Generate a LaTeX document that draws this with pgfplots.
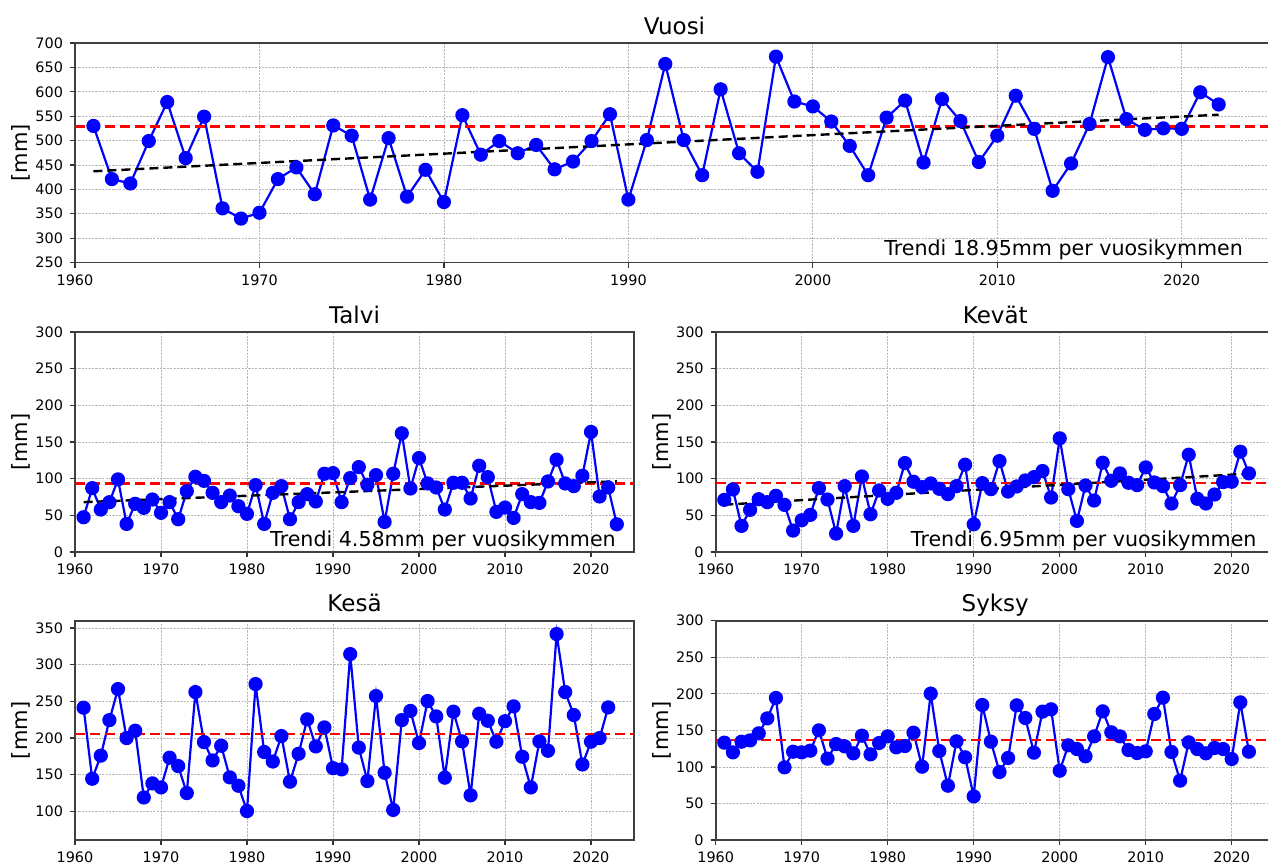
\documentclass[border=0pt]{standalone}
\usepackage{fontspec}
\setmainfont{DejaVu Sans}
\usepackage{pgfplots}
\pgfplotsset{compat=1.18}

\pgfplotsset{
  panel/.style={
    scale only axis,
    xmin=1960, xmax=2025,
    xtick={1960,1970,...,2020},
    grid=major,
    grid style={black!28, dash pattern=on 1.1pt off 0.6pt, line width=0.4pt},
    axis line style={black!75, line width=0.8pt},
    tick align=outside, tick pos=left,
    major tick length=2.5pt,
    tick style={black!80, line width=0.6pt},
    /pgf/number format/assume math mode=true,
    /pgf/number format/1000 sep={},
    tick label style={font=\fontsize{7.2}{8}\selectfont},
    every axis title/.style={at={(0.5,1)}, anchor=base, yshift=4.5pt, font=\fontsize{11.5}{13}\selectfont},
    ylabel={\mbox{[mm]}},
  },
  data/.style={blue, line width=1.1pt, mark=*, mark size=3pt, mark options={solid, fill=blue, draw=blue}},
  meanline/.style={red, line width=1.2pt, dash pattern=on 5pt off 2.5pt},
  trendline/.style={black, line width=1.2pt, dash pattern=on 4.5pt off 2.5pt},
}
\tikzset{trendtext/.style={anchor=base east, font=\fontsize{10.3}{12}\selectfont}}

\begin{document}
\begin{tikzpicture}
\path[use as bounding box, clip] (0,0) rectangle (634pt,432pt);

% ---------------- Vuosi ----------------
\begin{axis}[panel,
  at={(37.5pt,300.75pt)}, anchor=south west,
  width=599.5pt, height=109.75pt,
  ymin=250, ymax=700, ytick={250,300,...,700},
  title={Vuosi},
  every axis y label/.style={at={(axis description cs:-0.0450,0.5)}, rotate=90, anchor=center, font=\fontsize{10.5}{12}\selectfont},
]
\addplot[data] coordinates {
(1961,530)(1962,421)(1963,412)(1964,499)(1965,579)(1966,464)(1967,549)(1968,361)(1969,340)(1970,352)
(1971,421)(1972,445)(1973,390)(1974,531)(1975,510)(1976,379)(1977,505)(1978,385)(1979,440)(1980,374)
(1981,552)(1982,471)(1983,499)(1984,474)(1985,491)(1986,441)(1987,457)(1988,499)(1989,554)(1990,379)
(1991,501)(1992,657)(1993,501)(1994,429)(1995,605)(1996,474)(1997,436)(1998,672)(1999,580)(2000,570)
(2001,539)(2002,489)(2003,429)(2004,547)(2005,582)(2006,455)(2007,585)(2008,540)(2009,456)(2010,510)
(2011,592)(2012,524)(2013,397)(2014,453)(2015,534)(2016,671)(2017,544)(2018,522)(2019,525)(2020,524)
(2021,599)(2022,574)};
\addplot[meanline] coordinates {(1960,529)(2025,529)};
\addplot[trendline] coordinates {(1961,437)(2022,553)};
\node[trendtext] at ([yshift=3.5pt]rel axis cs:0.98,0) {Trendi 18.95mm per vuosikymmen};
\end{axis}

% ---------------- Talvi ----------------
\begin{axis}[panel,
  at={(37.5pt,156pt)}, anchor=south west,
  width=279.5pt, height=110pt,
  ymin=0, ymax=300, ytick={0,50,...,300},
  title={Talvi},
  every axis y label/.style={at={(axis description cs:-0.0965,0.5)}, rotate=90, anchor=center, font=\fontsize{10.5}{12}\selectfont},
]
\addplot[data] coordinates {
(1961,47.4)(1962,87.1)(1963,57.9)(1964,67.9)(1965,99)(1966,38.3)(1967,65.7)(1968,60.2)(1969,71.6)(1970,53.4)
(1971,68)(1972,44.7)(1973,83)(1974,102.6)(1975,97)(1976,80.7)(1977,68)(1978,77)(1979,62.5)(1980,52)
(1981,91.2)(1982,38.3)(1983,80.7)(1984,89.8)(1985,44.7)(1986,68)(1987,78.9)(1988,68.9)(1989,106.7)(1990,107.6)
(1991,68)(1992,100.8)(1993,115.8)(1994,91.7)(1995,104.9)(1996,41)(1997,106.7)(1998,161.9)(1999,86.6)(2000,128.1)
(2001,93.5)(2002,88)(2003,57.9)(2004,94.4)(2005,94.4)(2006,73)(2007,117.6)(2008,102.1)(2009,54.7)(2010,60.6)
(2011,46.5)(2012,78.9)(2013,68)(2014,67)(2015,96.2)(2016,125.9)(2017,93.5)(2018,89.8)(2019,104)(2020,163.7)
(2021,75.7)(2022,88)(2023,37.8)};
\addplot[meanline] coordinates {(1960,93.5)(2025,93.5)};
\addplot[trendline] coordinates {(1961,68)(2023,96.4)};
\node[trendtext] at ([yshift=3pt]rel axis cs:0.98,0) {Trendi 4.58mm per vuosikymmen};
\end{axis}

% ---------------- Kevät ----------------
\begin{axis}[panel,
  at={(357.85pt,156pt)}, anchor=south west,
  width=279.5pt, height=110pt,
  ymin=0, ymax=300, ytick={0,50,...,300},
  title={Kevät},
  every axis y label/.style={at={(axis description cs:-0.0965,0.5)}, rotate=90, anchor=center, font=\fontsize{10.5}{12}\selectfont},
]
\addplot[data] coordinates {
(1961,71.1)(1962,85.3)(1963,35.6)(1964,57.5)(1965,72)(1966,68)(1967,76.6)(1968,64.3)(1969,29.2)(1970,43.3)
(1971,50.6)(1972,87.1)(1973,71.6)(1974,25.1)(1975,89.8)(1976,35.6)(1977,103)(1978,51.5)(1979,83.9)(1980,72.5)
(1981,80.7)(1982,121.3)(1983,95.8)(1984,88.5)(1985,93.5)(1986,86.2)(1987,78.9)(1988,89.8)(1989,119)(1990,37.8)
(1991,93.9)(1992,85.7)(1993,124)(1994,82.5)(1995,89.4)(1996,97.6)(1997,102.1)(1998,110.4)(1999,74.3)(2000,155)
(2001,85.7)(2002,42.4)(2003,90.7)(2004,70.2)(2005,121.8)(2006,97.1)(2007,107.2)(2008,94.4)(2009,91.2)(2010,115.4)
(2011,94.8)(2012,89.8)(2013,66.1)(2014,91.2)(2015,132.7)(2016,72.5)(2017,66.1)(2018,78.4)(2019,95.3)(2020,95.8)
(2021,136.8)(2022,107.2)};
\addplot[meanline] coordinates {(1960,94.4)(2025,94.4)};
\addplot[trendline] coordinates {(1961,64.5)(2022,106.9)};
\node[trendtext] at ([yshift=3pt]rel axis cs:0.98,0) {Trendi 6.95mm per vuosikymmen};
\end{axis}

% ---------------- Kesä ----------------
\begin{axis}[panel,
  at={(37.5pt,12pt)}, anchor=south west,
  width=279.5pt, height=109.65pt,
  ymin=61, ymax=360, ytick={100,150,...,350},
  title={Kesä},
  every axis y label/.style={at={(axis description cs:-0.0965,0.5)}, rotate=90, anchor=center, font=\fontsize{10.5}{12}\selectfont},
]
\addplot[data] coordinates {
(1961,241.4)(1962,144.5)(1963,176)(1964,224.5)(1965,266.8)(1966,200)(1967,210)(1968,119)(1969,138.2)(1970,132.7)
(1971,173.2)(1972,161.8)(1973,125)(1974,262.7)(1975,194.5)(1976,169.5)(1977,189.5)(1978,146.4)(1979,135)(1980,100.5)
(1981,273.6)(1982,181)(1983,168)(1984,202.7)(1985,140.5)(1986,178.6)(1987,225.5)(1988,188.6)(1989,214.5)(1990,159)
(1991,157.3)(1992,314.5)(1993,187)(1994,141.4)(1995,257.3)(1996,152.7)(1997,102)(1998,224.5)(1999,237)(2000,193.2)
(2001,250.5)(2002,229.5)(2003,146)(2004,236)(2005,195.5)(2006,122)(2007,233.2)(2008,223.6)(2009,195)(2010,223)
(2011,243.2)(2012,174.5)(2013,132.7)(2014,195.5)(2015,182.7)(2016,341.8)(2017,262.7)(2018,231.4)(2019,164)(2020,195)
(2021,200)(2022,241.8)};
\addplot[meanline] coordinates {(1960,205.5)(2025,205.5)};
\end{axis}

% ---------------- Syksy ----------------
\begin{axis}[panel,
  at={(357.85pt,12pt)}, anchor=south west,
  width=279.5pt, height=109.65pt,
  ymin=0, ymax=300, ytick={0,50,...,300},
  title={Syksy},
  every axis y label/.style={at={(axis description cs:-0.0965,0.5)}, rotate=90, anchor=center, font=\fontsize{10.5}{12}\selectfont},
]
\addplot[data] coordinates {
(1961,133.2)(1962,119.9)(1963,134.5)(1964,136.3)(1965,145.9)(1966,166.4)(1967,194.3)(1968,99.4)(1969,120.8)(1970,119.9)
(1971,122.2)(1972,150)(1973,111.3)(1974,131.3)(1975,128.1)(1976,118.6)(1977,142.7)(1978,117.2)(1979,132.7)(1980,141.8)
(1981,126.8)(1982,128.6)(1983,146.8)(1984,100.3)(1985,200.2)(1986,121.7)(1987,74.3)(1988,135)(1989,113.1)(1990,59.7)
(1991,184.7)(1992,134.5)(1993,93)(1994,112.2)(1995,184.2)(1996,166.9)(1997,119.5)(1998,175.6)(1999,178.8)(2000,94.8)
(2001,129.5)(2002,124.5)(2003,114.5)(2004,141.8)(2005,176)(2006,147.3)(2007,141.8)(2008,123.1)(2009,119)(2010,121.3)
(2011,172.4)(2012,194.7)(2013,120.4)(2014,81.2)(2015,133.6)(2016,124.5)(2017,118.6)(2018,125.9)(2019,124.5)(2020,110.8)
(2021,188.3)(2022,120.8)};
\addplot[meanline] coordinates {(1960,136.8)(2025,136.8)};
\end{axis}
\end{tikzpicture}
\end{document}
